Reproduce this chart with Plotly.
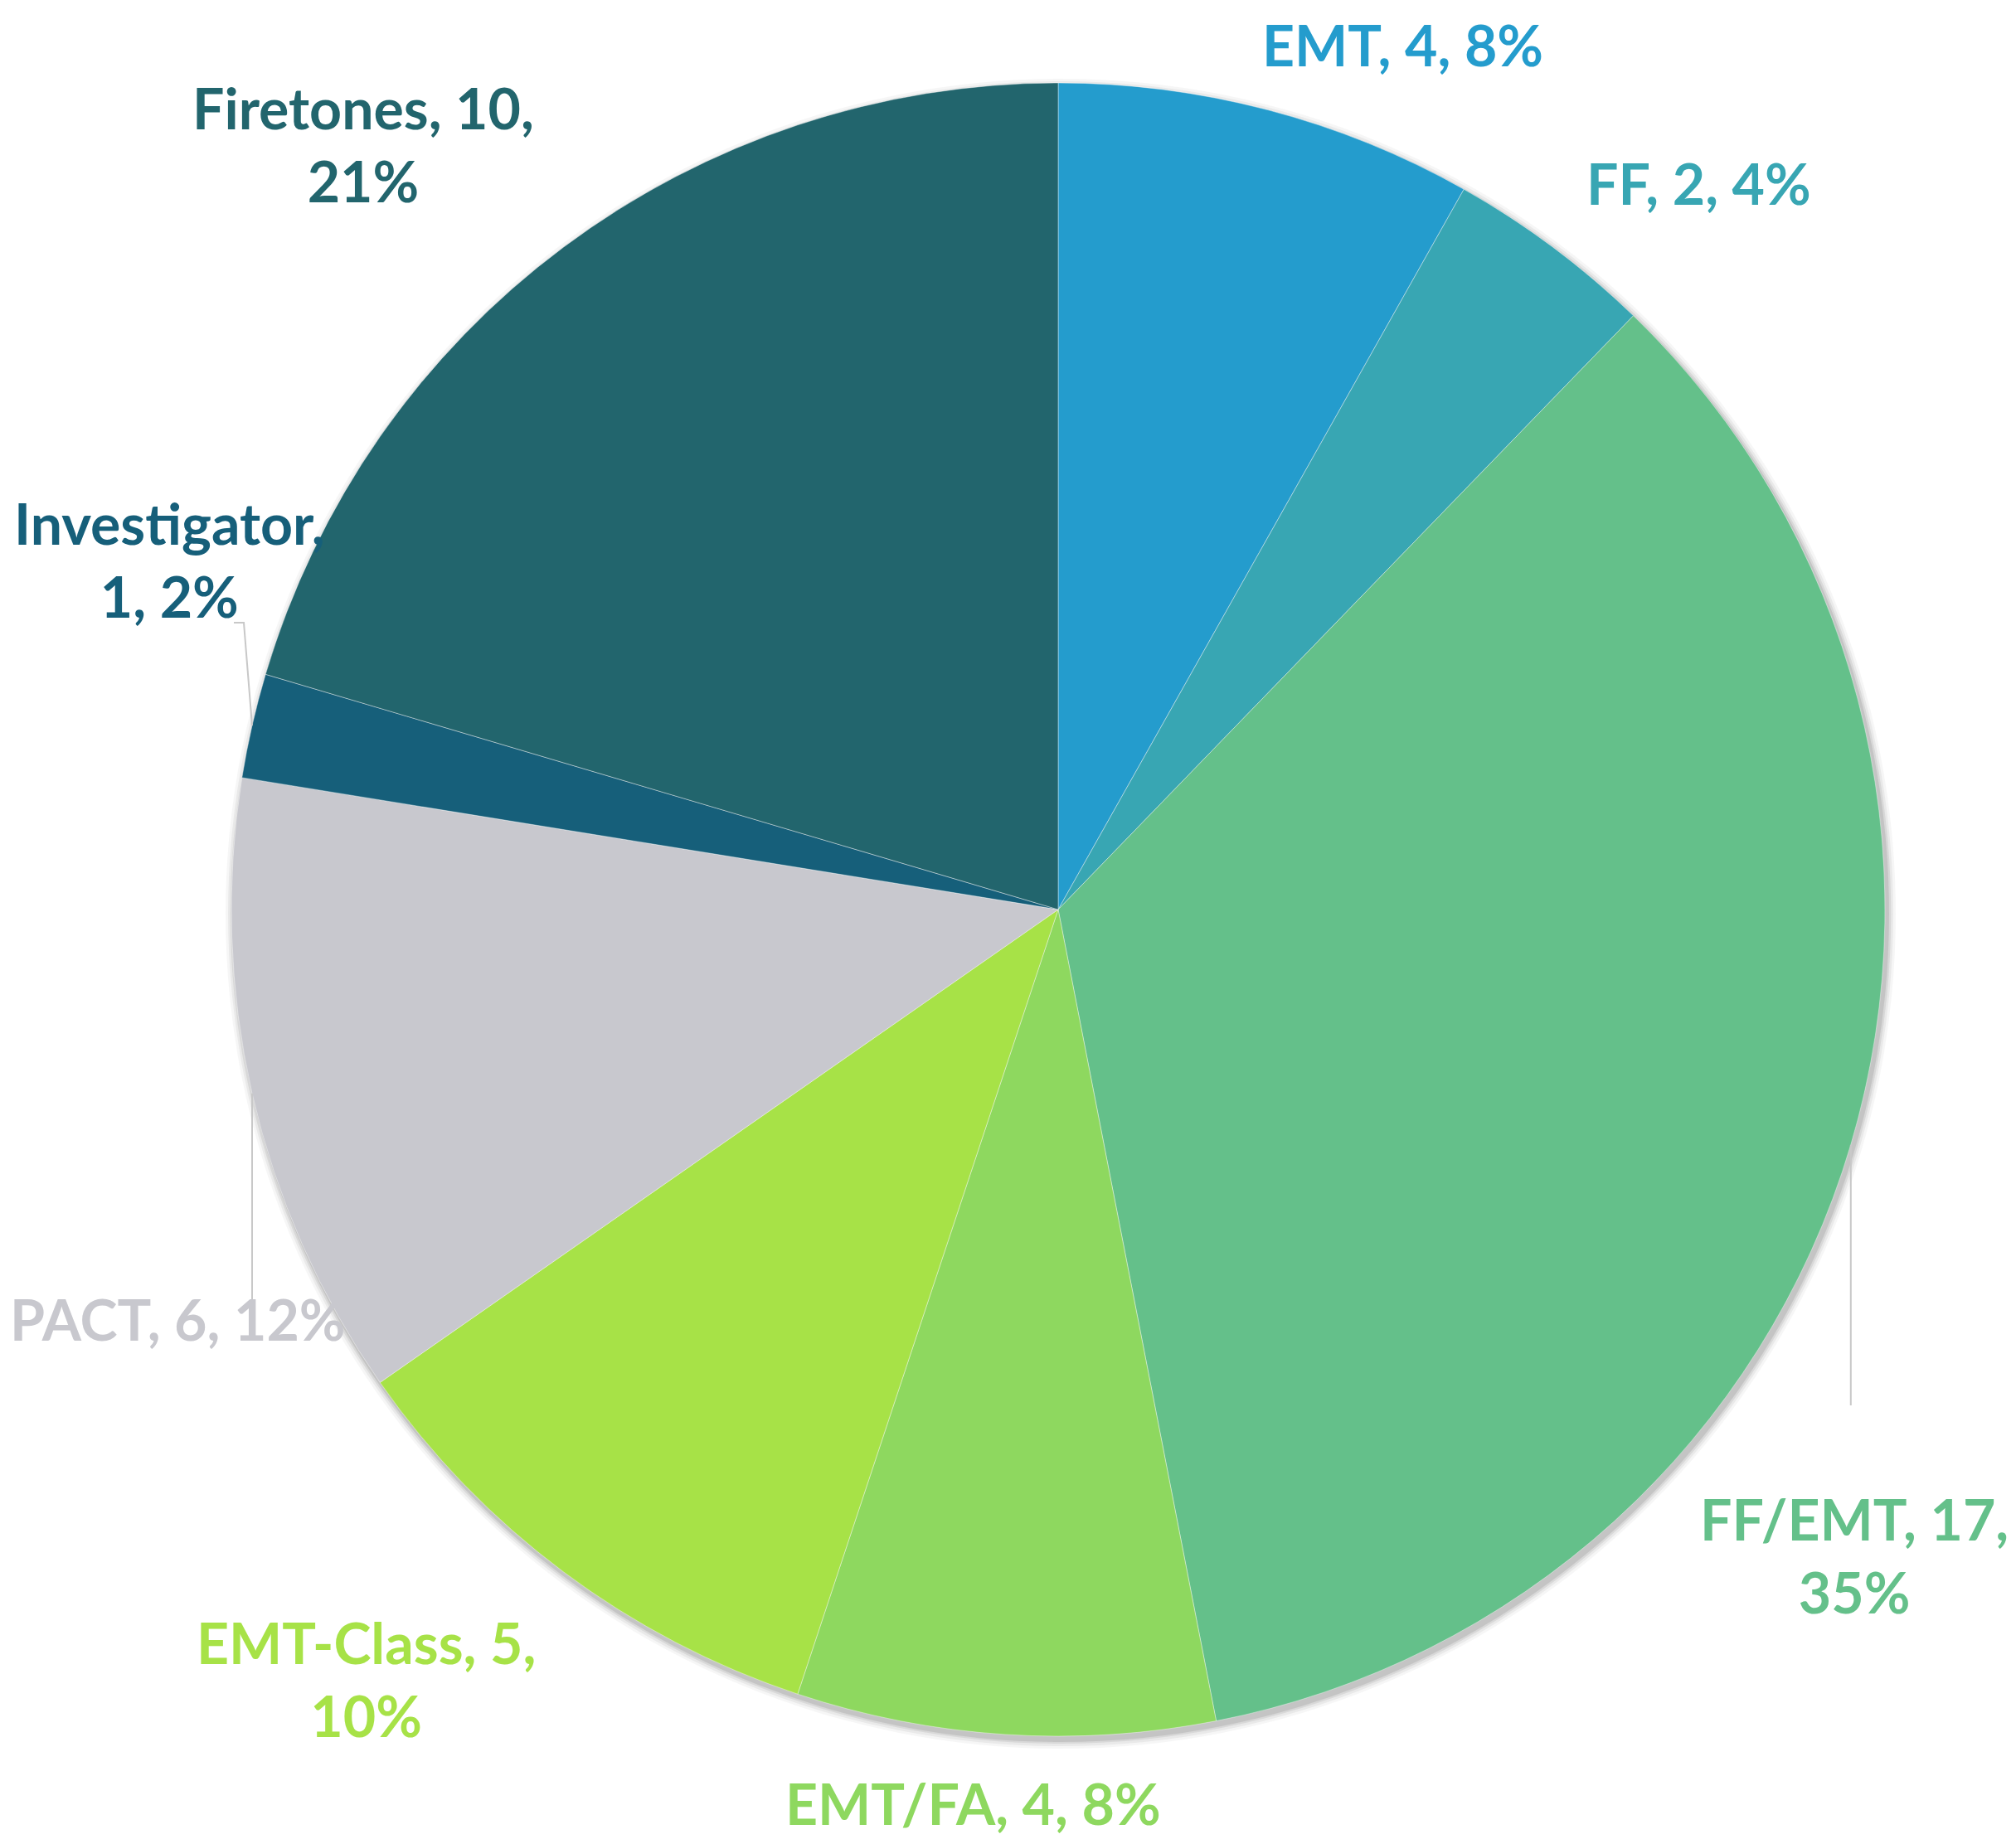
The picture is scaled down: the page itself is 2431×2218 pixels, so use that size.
import math
import plotly.graph_objects as go

# data
labels = ["EMT", "FF", "FF/EMT", "EMT/FA", "EMT-Class", "PACT", "Investigator", "Firetones"]
counts = [4, 2, 17, 4, 5, 6, 1, 10]
pct_text = ["8%", "4%", "35%", "8%", "10%", "12%", "2%", "21%"]

colors = ["#249CCD", "#38A6B3", "#64C08A", "#8ED85F", "#A7E247", "#C8C8CE", "#165F7A", "#22656D"]

W, H = 2431, 2218
CX, CY, R = 1268, 1089, 997

# label text blocks: (x, y) in px, text with line break
label_pos = [(1683, 46), (2040, 213), (2228, 1868), (1165, 2166),
             (433, 2016), (206, 1582), (196, 666), (430, 165)]
label_breaks = [None, None, "FF/EMT, 17,<br>35%", None,
                "EMT-Class, 5,<br>10%", None, "Investigator,<br>1, 2%", "Firetones, 10,<br>21%"]
# leader lines: slice index -> y where the line meets the label
leader_end = {2: 1687, 5: 1567, 6: 743}


def domain(cx, cy, r):
    return dict(x=[(cx - r) / W, (cx + r) / W], y=[1 - (cy + r) / H, 1 - (cy - r) / H])


fig = go.Figure()

# soft shadow behind the pie
for dr, a in [(10, 0.035), (7, 0.05), (4, 0.07), (2, 0.09)]:
    fig.add_trace(go.Pie(
        values=[1], domain=domain(CX + 3, CY + 5, R + dr),
        marker=dict(colors=[f"rgba(0,0,0,{a})"], line=dict(width=0)),
        textinfo="none", hoverinfo="skip", showlegend=False, sort=False,
    ))

fig.add_trace(go.Pie(
    labels=labels, values=counts, sort=False, direction="clockwise", rotation=0,
    domain=domain(CX, CY, R),
    marker=dict(colors=colors, line=dict(color="rgba(255,255,255,0.4)", width=1)),
    textinfo="none", showlegend=False,
))

total = sum(counts)
cum = 0
for i, (lab, c, p) in enumerate(zip(labels, counts, pct_text)):
    mid = (cum + c / 2) / total * 2 * math.pi
    cum += c
    txt = label_breaks[i] or f"{lab}, {c}, {p}"
    x, y = label_pos[i]
    fig.add_annotation(
        x=x / W, y=1 - y / H, xref="paper", yref="paper", text=txt, showarrow=False,
        font=dict(family="Lato", size=68, color=colors[i], weight="bold"),
        xanchor="center", yanchor="middle", align="center",
    )
    if i in leader_end:
        px = CX + R * math.sin(mid)
        py = CY - R * math.cos(mid)
        ly = leader_end[i]
        if i == 6:
            pts = [(px - 22, ly), (px - 10, ly), (px, py)]
        else:
            pts = [(px, ly), (px, py)]
        path = "M " + " L ".join(f"{a / W},{1 - b / H}" for a, b in pts)
        fig.add_shape(type="path", path=path, xref="paper", yref="paper",
                      line=dict(color="#C8C8C8", width=2))

fig.update_layout(
    width=W, height=H,
    margin=dict(l=0, r=0, t=0, b=0),
    paper_bgcolor="white", plot_bgcolor="white",
)
fig.write_html("out.html")
